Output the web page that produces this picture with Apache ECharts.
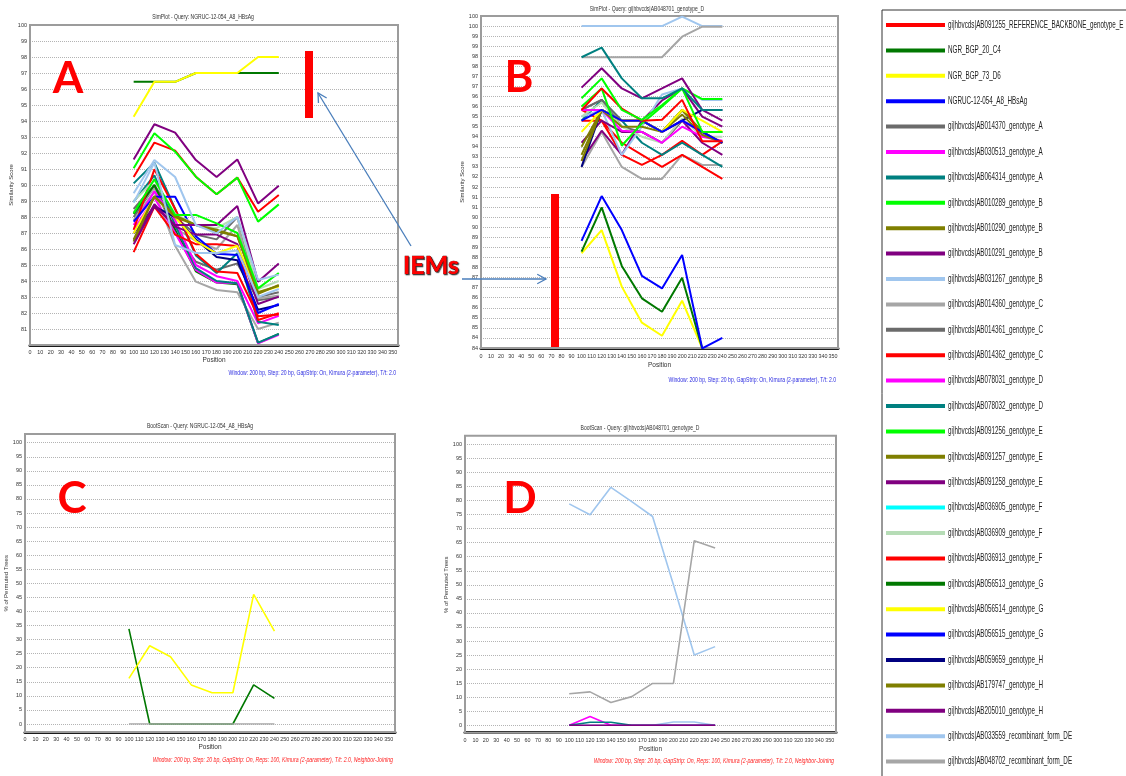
<!DOCTYPE html>
<html><head><meta charset="utf-8">
<script src="https://cdn.jsdelivr.net/npm/echarts@6/dist/echarts.min.js"></script>
<style>html,body{margin:0;padding:0;background:#fff}#c{width:1126px;height:776px}</style>
</head><body><div id="c"></div>
<script>
// ---------- DATA ----------
const positions = [100, 120, 140, 160, 180, 200, 220, 240];
const xTickStep = 10;

const seriesNames = [
  'gi|hbvcds|AB091255_REFERENCE_BACKBONE_genotype_E',
  'NGR_BGP_20_C4',
  'NGR_BGP_73_D6',
  'NGRUC-12-054_A8_HBsAg',
  'gi|hbvcds|AB014370_genotype_A',
  'gi|hbvcds|AB030513_genotype_A',
  'gi|hbvcds|AB064314_genotype_A',
  'gi|hbvcds|AB010289_genotype_B',
  'gi|hbvcds|AB010290_genotype_B',
  'gi|hbvcds|AB010291_genotype_B',
  'gi|hbvcds|AB031267_genotype_B',
  'gi|hbvcds|AB014360_genotype_C',
  'gi|hbvcds|AB014361_genotype_C',
  'gi|hbvcds|AB014362_genotype_C',
  'gi|hbvcds|AB078031_genotype_D',
  'gi|hbvcds|AB078032_genotype_D',
  'gi|hbvcds|AB091256_genotype_E',
  'gi|hbvcds|AB091257_genotype_E',
  'gi|hbvcds|AB091258_genotype_E',
  'gi|hbvcds|AB036905_genotype_F',
  'gi|hbvcds|AB036909_genotype_F',
  'gi|hbvcds|AB036913_genotype_F',
  'gi|hbvcds|AB056513_genotype_G',
  'gi|hbvcds|AB056514_genotype_G',
  'gi|hbvcds|AB056515_genotype_G',
  'gi|hbvcds|AB059659_genotype_H',
  'gi|hbvcds|AB179747_genotype_H',
  'gi|hbvcds|AB205010_genotype_H',
  'gi|hbvcds|AB033559_recombinant_form_DE',
  'gi|hbvcds|AB048702_recombinant_form_DE'
];

// Panel A: SimPlot, query NGRUC-12-054_A8_HBsAg (values at positions)
const simplotA = [
  ['gi|hbvcds|AB014360_genotype_C',          [87.8, 89.6, 86.2, 83.96, 83.44, 83.3, 81.0, 81.4]],
  ['gi|hbvcds|AB014370_genotype_A',          [88.0, 89.9, 87.0, 85.2, 84.7, 85.1, 82.8, 83.0]],
  ['gi|hbvcds|AB014361_genotype_C',          [88.5, 90.0, 88.0, 86.9, 86.6, 88.0, 83.0, 83.3]],
  ['gi|hbvcds|AB048702_recombinant_form_DE', [88.3, 89.8, 87.3, 86.5, 86.0, 87.5, 82.9, 83.1]],
  ['gi|hbvcds|AB056513_genotype_G',          [88.2, 90.0, 87.2, 84.6, 83.9, 83.8, 80.12, 80.7]],
  ['gi|hbvcds|AB078031_genotype_D',          [87.2, 89.2, 87.0, 84.7, 83.9, 83.86, 80.1, 80.63]],
  ['gi|hbvcds|AB064314_genotype_A',          [88.96, 90.6, 87.5, 84.8, 84.0, 83.86, 80.15, 80.69]],
  ['gi|hbvcds|AB030513_genotype_A',          [87.5, 89.6, 87.8, 85.0, 84.3, 84.0, 81.35, 81.83]],
  ['gi|hbvcds|AB078032_genotype_D',          [90.1, 91.4, 88.5, 85.6, 84.5, 85.73, 81.46, 81.25]],
  ['gi|hbvcds|AB036913_genotype_F',          [87.2, 90.98, 88.5, 85.7, 84.6, 84.5, 81.8, 81.9]],
  ['gi|hbvcds|AB014362_genotype_C',          [85.8, 88.65, 86.9, 86.3, 86.3, 86.19, 81.56, 81.98]],
  ['gi|hbvcds|AB059659_genotype_H',          [86.98, 88.65, 88.0, 86.6, 85.5, 85.3, 82.2, 82.5]],
  ['gi|hbvcds|AB056515_genotype_G',          [87.71, 89.27, 89.27, 86.8, 85.7, 85.63, 82.0, 82.56]],
  ['gi|hbvcds|AB205010_genotype_H',          [86.5, 88.8, 87.4, 86.9, 86.9, 86.3, 82.56, 83.02]],
  ['gi|hbvcds|AB056514_genotype_G',          [86.98, 89.27, 88.0, 86.5, 85.73, 86.2, 83.3, 83.65]],
  ['gi|hbvcds|AB036909_genotype_F',          [89.0, 90.3, 88.2, 87.5, 87.3, 88.0, 83.5, 84.0]],
  ['gi|hbvcds|AB179747_genotype_H',          [86.6, 89.3, 88.0, 87.5, 87.2, 86.8, 83.3, 83.7]],
  ['gi|hbvcds|AB091257_genotype_E',          [86.46, 89.27, 88.1, 87.5, 87.1, 86.8, 83.2, 83.75]],
  ['gi|hbvcds|AB091258_genotype_E',          [86.3, 88.65, 87.5, 87.5, 87.5, 88.69, 83.96, 85.1]],
  ['gi|hbvcds|AB091256_genotype_E',          [88.23, 90.36, 88.13, 88.13, 87.6, 87.0, 83.54, 84.5]],
  ['gi|hbvcds|AB033559_recombinant_form_DE', [88.9, 91.4, 86.25, 85.75, 85.75, 85.9, 83.0, 83.5]],
  ['gi|hbvcds|AB031267_genotype_B',          [89.48, 91.56, 90.5, 87.5, 86.98, 88.0, 84.06, 84.4]],
  ['gi|hbvcds|AB091255_REFERENCE_BACKBONE_genotype_E', [90.5, 92.65, 92.15, 90.52, 89.42, 90.46, 88.33, 89.38]],
  ['gi|hbvcds|AB010289_genotype_B',          [91.04, 93.23, 92.08, 90.52, 89.42, 90.46, 87.71, 88.79]],
  ['gi|hbvcds|AB010291_genotype_B',          [91.6, 93.8, 93.27, 91.56, 90.5, 91.6, 88.85, 89.96]],
  ['NGR_BGP_20_C4',                          [96.45, 96.45, 96.45, 97.0, 97.0, 97.0, 97.0, 97.0]],
  ['NGR_BGP_73_D6',                          [94.27, 96.45, 96.45, 97.0, 97.0, 97.0, 98.0, 98.0]]
];

// Panel B: SimPlot, query gi|hbvcds|AB048701_genotype_D
const simplotB = [
  ['gi|hbvcds|AB033559_recombinant_form_DE', [100.0, 100.0, 100.0, 100.0, 100.0, 100.47, 100.0, 100.0]],
  ['gi|hbvcds|AB048702_recombinant_form_DE', [98.45, 98.45, 98.45, 98.45, 98.45, 99.47, 99.97, 99.97]],
  ['gi|hbvcds|AB014360_genotype_C',          [93.0, 94.74, 93.0, 92.4, 92.4, 93.6, 93.1, 93.1]],
  ['gi|hbvcds|AB014362_genotype_C',          [95.83, 95.3, 94.2, 93.6, 93.0, 93.6, 93.0, 92.4]],
  ['gi|hbvcds|AB036913_genotype_F',          [95.3, 95.3, 93.6, 93.1, 93.6, 94.3, 93.6, 94.27]],
  ['gi|hbvcds|AB078032_genotype_D',          [95.3, 96.33, 95.3, 94.2, 93.6, 94.2, 93.6, 93.0]],
  ['gi|hbvcds|AB205010_genotype_H',          [93.3, 94.8, 93.6, 95.3, 96.3, 96.9, 95.5, 95.0]],
  ['gi|hbvcds|AB031267_genotype_B',          [95.5, 95.83, 93.6, 95.0, 96.6, 96.9, 96.33, 96.33]],
  ['gi|hbvcds|AB091258_genotype_E',          [94.2, 95.3, 94.74, 94.74, 94.2, 95.3, 94.2, 93.6]],
  ['gi|hbvcds|AB014361_genotype_C',          [95.83, 96.33, 95.0, 94.74, 94.2, 95.3, 94.74, 94.74]],
  ['gi|hbvcds|AB014370_genotype_A',          [95.83, 96.33, 95.3, 95.3, 94.74, 95.83, 94.74, 94.74]],
  ['gi|hbvcds|AB036909_genotype_F',          [95.5, 96.2, 95.0, 94.5, 94.2, 95.4, 94.5, 94.5]],
  ['gi|hbvcds|AB078031_genotype_D',          [95.83, 95.83, 94.8, 94.74, 94.2, 95.0, 94.5, 94.3]],
  ['gi|hbvcds|AB030513_genotype_A',          [95.83, 95.83, 95.3, 95.3, 94.74, 95.3, 94.74, 94.2]],
  ['gi|hbvcds|AB059659_genotype_H',          [93.0, 95.83, 95.3, 95.3, 94.74, 95.3, 95.83, 95.83]],
  ['gi|hbvcds|AB010290_genotype_B',          [94.0, 95.83, 95.0, 95.0, 94.74, 95.6, 94.6, 94.2]],
  ['gi|hbvcds|AB179747_genotype_H',          [93.3, 95.83, 95.3, 95.3, 94.74, 95.83, 94.74, 94.2]],
  ['gi|hbvcds|AB091257_genotype_E',          [93.6, 95.83, 95.3, 95.3, 94.74, 95.83, 94.74, 94.2]],
  ['gi|hbvcds|AB056514_genotype_G',          [94.74, 95.83, 95.3, 95.3, 94.74, 95.83, 95.3, 94.74]],
  ['gi|hbvcds|AB056515_genotype_G',          [95.3, 95.83, 95.3, 95.3, 94.74, 95.3, 94.74, 94.2]],
  ['gi|hbvcds|AB091256_genotype_E',          [96.0, 96.9, 94.05, 95.16, 96.0, 96.9, 94.74, 94.74]],
  ['gi|hbvcds|AB091255_REFERENCE_BACKBONE_genotype_E', [95.83, 96.9, 95.9, 95.3, 95.34, 96.33, 94.27, 94.27]],
  ['gi|hbvcds|AB010289_genotype_B',          [96.41, 97.4, 95.83, 95.34, 96.08, 96.9, 96.37, 96.37]],
  ['gi|hbvcds|AB010291_genotype_B',          [96.94, 97.9, 96.9, 96.41, 96.9, 97.4, 95.83, 95.3]],
  ['gi|hbvcds|AB064314_genotype_A',          [98.45, 98.93, 97.4, 96.41, 96.41, 96.9, 95.83, 95.83]],
  ['NGR_BGP_73_D6',                          [88.71, 89.86, 87.05, 85.26, 84.61, 86.35, 83.98]],
  ['NGR_BGP_20_C4',                          [88.79, 90.99, 88.08, 86.47, 85.8, 87.49, 83.98]],
  ['NGRUC-12-054_A8_HBsAg',                  [89.32, 91.55, 89.86, 87.58, 86.96, 88.62, 83.98, 84.5]]
];

// Panel C: BootScan, query NGRUC-12-054_A8_HBsAg
const bootscanC = [
  ['NGR_BGP_20_C4',                          [33.8, 0, 0, 0, 0, 0, 13.9, 9.1]],
  ['NGR_BGP_73_D6',                          [16.2, 27.8, 23.9, 13.9, 11.1, 11.1, 46.1, 33.0]],
  ['gi|hbvcds|AB048702_recombinant_form_DE', [0, 0, 0, 0, 0, 0, 0, 0]]
];

// Panel D: BootScan, query gi|hbvcds|AB048701_genotype_D
const bootscanD = [
  ['gi|hbvcds|AB033559_recombinant_form_DE', [78.8, 74.9, 84.7, 79.6, 74.3, 50.0, 25.0, 28.0]],
  ['gi|hbvcds|AB048702_recombinant_form_DE', [11.2, 11.9, 8.1, 10.2, 14.9, 14.9, 65.7, 63.1]],
  ['gi|hbvcds|AB031267_genotype_B',          [0, 0, 0, 0, 0, 1.2, 1.2, 0]],
  ['gi|hbvcds|AB078031_genotype_D',          [0, 3.1, 0, 0, 0, 0, 0, 0]],
  ['gi|hbvcds|AB064314_genotype_A',          [0, 1.1, 1.1, 0, 0, 0, 0, 0]],
  ['gi|hbvcds|AB205010_genotype_H',          [0, 0, 0, 0, 0, 0, 0, 0]]
];

// ---------- STYLES ----------
const lineColors = {
  'gi|hbvcds|AB091255_REFERENCE_BACKBONE_genotype_E': '#ff0000',
  'NGR_BGP_20_C4': '#007800',
  'NGR_BGP_73_D6': '#ffff00',
  'NGRUC-12-054_A8_HBsAg': '#0000ff',
  'gi|hbvcds|AB014370_genotype_A': '#6b6b6b',
  'gi|hbvcds|AB030513_genotype_A': '#ff00ff',
  'gi|hbvcds|AB064314_genotype_A': '#008080',
  'gi|hbvcds|AB010289_genotype_B': '#00ff00',
  'gi|hbvcds|AB010290_genotype_B': '#7f7f00',
  'gi|hbvcds|AB010291_genotype_B': '#800080',
  'gi|hbvcds|AB031267_genotype_B': '#a0c6ee',
  'gi|hbvcds|AB014360_genotype_C': '#a6a6a6',
  'gi|hbvcds|AB014361_genotype_C': '#6b6b6b',
  'gi|hbvcds|AB014362_genotype_C': '#ff0000',
  'gi|hbvcds|AB078031_genotype_D': '#ff00ff',
  'gi|hbvcds|AB078032_genotype_D': '#008080',
  'gi|hbvcds|AB091256_genotype_E': '#00ff00',
  'gi|hbvcds|AB091257_genotype_E': '#7f7f00',
  'gi|hbvcds|AB091258_genotype_E': '#800080',
  'gi|hbvcds|AB036905_genotype_F': '#00ffff',
  'gi|hbvcds|AB036909_genotype_F': '#b6dcb6',
  'gi|hbvcds|AB036913_genotype_F': '#ff0000',
  'gi|hbvcds|AB056513_genotype_G': '#007800',
  'gi|hbvcds|AB056514_genotype_G': '#ffff00',
  'gi|hbvcds|AB056515_genotype_G': '#0000ff',
  'gi|hbvcds|AB059659_genotype_H': '#000080',
  'gi|hbvcds|AB179747_genotype_H': '#7f7f00',
  'gi|hbvcds|AB205010_genotype_H': '#800080',
  'gi|hbvcds|AB033559_recombinant_form_DE': '#a0c6ee',
  'gi|hbvcds|AB048702_recombinant_form_DE': '#a6a6a6'
};

const FONT = "'Liberation Sans', Arial, sans-serif";
const panels = [
  { grid: {left: 30, top: 25, width: 368, height: 320}, xMax: 355, yMin: 80, yMax: 100, yInt: 1,
    rows: simplotA, lw: 2, yName: 'Similarity Score', offset: 0, labelMargin: 5, nameGap: 12, yNameGap: 12,
    yFmt: v => (v === 80 ? '' : String(v)) },
  { grid: {left: 481, top: 16, width: 357, height: 332}, xMax: 355, yMin: 84, yMax: 100.5, yInt: 0.5,
    rows: simplotB, lw: 2, yName: 'Similarity Score', offset: 0, labelMargin: 6, nameGap: 14, yNameGap: 12,
    yFmt: v => String(Math.floor(v)) },
  { grid: {left: 25, top: 442.7, width: 370, height: 281.3}, xMax: 356, yMin: 0, yMax: 100, yInt: 5,
    rows: bootscanC, lw: 1.6, yName: '% of Permuted Trees', offset: 8, labelMargin: 5, nameGap: 12, yNameGap: 12,
    yFmt: v => String(v) },
  { grid: {left: 465, top: 444.3, width: 371, height: 281}, xMax: 356, yMin: 0, yMax: 100, yInt: 5,
    rows: bootscanD, lw: 1.6, yName: '% of Permuted Trees', offset: 7.4, labelMargin: 5, nameGap: 13, yNameGap: 13,
    yFmt: v => String(v) }
];

const grids = [], xAxes = [], yAxes = [], series = [];
panels.forEach((p, i) => {
  grids.push(Object.assign({show: false, containLabel: false}, p.grid));
  xAxes.push({
    type: 'value', gridIndex: i, min: 0, max: p.xMax, interval: xTickStep, offset: p.offset,
    name: 'Position', nameLocation: 'middle', nameGap: p.nameGap,
    nameTextStyle: {fontSize: 6.5, color: '#333', fontFamily: FONT},
    axisLine: {show: true, onZero: false, lineStyle: {color: '#1a1a1a', width: 3}},
    axisTick: {show: false}, splitLine: {show: false},
    axisLabel: {fontSize: 5.4, color: '#333', fontFamily: FONT, margin: p.labelMargin,
      formatter: v => (v % xTickStep === 0 ? String(v) : '')}
  });
  yAxes.push({
    type: 'value', gridIndex: i, min: p.yMin, max: p.yMax, interval: p.yInt,
    name: p.yName, nameLocation: 'middle', nameGap: p.yNameGap,
    nameTextStyle: {fontSize: 6, color: '#333', fontFamily: FONT},
    axisLine: {show: false}, axisTick: {show: false},
    splitLine: {show: true, lineStyle: {color: '#b4b4b4', type: 'dotted', width: 1}},
    axisLabel: {fontSize: 5.5, color: '#333', fontFamily: FONT, margin: 3, formatter: p.yFmt}
  });
  p.rows.forEach(([name, vals]) => {
    const c = lineColors[name];
    series.push({
      type: 'line', name, xAxisIndex: i, yAxisIndex: i,
      data: vals.map((v, k) => [positions[k], v]),
      showSymbol: false, symbol: 'none', silent: true, clip: true,
      lineStyle: {color: c, width: p.lw}, itemStyle: {color: c},
      emphasis: {disabled: true}
    });
  });
});

// ---------- ANNOTATIONS ----------
function txt(x, y, text, o, sx) {
  return {type: 'text', x, y, z: 50, silent: true, scaleX: sx || 1,
    style: Object.assign({text, fill: '#333', fontSize: 7, fontFamily: FONT,
      align: 'center', textAlign: 'center', verticalAlign: 'middle', textVerticalAlign: 'middle'}, o || {})};
}
function arrow(x1, y1, x2, y2) {
  const ang = Math.atan2(y1 - y2, x1 - x2), L = 10, a = 0.5;
  const st = {stroke: '#4a7ebb', lineWidth: 1.3, fill: null};
  return [
    {type: 'polyline', z: 60, silent: true, shape: {points: [[x1, y1], [x2, y2]]}, style: st},
    {type: 'polyline', z: 60, silent: true, shape: {points: [
      [x2 + L * Math.cos(ang + a), y2 + L * Math.sin(ang + a)], [x2, y2],
      [x2 + L * Math.cos(ang - a), y2 + L * Math.sin(ang - a)]]}, style: st}
  ];
}
const frameStyle = {fill: null, stroke: '#9c9c9c', lineWidth: 2};
const letterStyle = {fill: '#ff0000', fontSize: 44, fontWeight: 'bold', fontFamily: "Lato, 'Open Sans', sans-serif"};
const sub1 = 'Window: 200 bp, Step: 20 bp, GapStrip: On, Kimura (2-parameter), T/t: 2.0';
const sub2 = 'Window: 200 bp, Step: 20 bp, GapStrip: On, Reps: 100, Kimura (2-parameter), T/t: 2.0, Neighbor-Joining';
const subBlue = {fill: '#2a2ae0', fontSize: 6.5, align: 'right', textAlign: 'right'};
const subRed = {fill: '#ff2020', fontSize: 6.5, fontStyle: 'italic', align: 'right', textAlign: 'right'};

// Legend (names and colours from the series lists above)
const legendEls = [];
seriesNames.forEach((name, i) => {
  const y = 25 + i * 25.4;
  legendEls.push({type: 'rect', z: 40, silent: true, shape: {x: 886, y: y - 2, width: 59, height: 4},
    style: {fill: lineColors[name]}});
  legendEls.push({type: 'text', x: 948, y: y, z: 40, silent: true, scaleX: 0.6,
    style: {text: name, fill: '#222', fontSize: 10.5, fontFamily: FONT,
      align: 'left', textAlign: 'left', verticalAlign: 'middle', textVerticalAlign: 'middle'}});
});

const graphics = [
  {type: 'rect', z: 1, silent: true, shape: {x: 30, y: 25, width: 368, height: 320}, style: frameStyle},
  {type: 'rect', z: 1, silent: true, shape: {x: 481, y: 16, width: 357, height: 332}, style: frameStyle},
  {type: 'rect', z: 1, silent: true, shape: {x: 25, y: 434, width: 370, height: 298}, style: frameStyle},
  {type: 'rect', z: 1, silent: true, shape: {x: 465, y: 435.7, width: 371, height: 297}, style: frameStyle},
  {type: 'rect', z: 1, silent: true, shape: {x: 882, y: 10, width: 300, height: 800}, style: {fill: null, stroke: '#333', lineWidth: 1}},
  txt(203, 17, 'SimPlot - Query: NGRUC-12-054_A8_HBsAg', null, 0.72),
  txt(647, 9, 'SimPlot - Query: gi|hbvcds|AB048701_genotype_D', null, 0.72),
  txt(200, 426, 'BootScan - Query: NGRUC-12-054_A8_HBsAg', null, 0.72),
  txt(640, 428, 'BootScan - Query: gi|hbvcds|AB048701_genotype_D', null, 0.72),
  txt(396, 373, sub1, subBlue, 0.78),
  txt(836, 380, sub1, subBlue, 0.78),
  txt(393, 760, sub2, subRed, 0.8),
  txt(834, 761, sub2, subRed, 0.8),
  txt(68, 79, 'A', letterStyle),
  txt(519, 78, 'B', letterStyle),
  txt(72, 499, 'C', letterStyle),
  txt(520, 499, 'D', letterStyle),
  {type: 'rect', z: 60, silent: true, shape: {x: 305, y: 51, width: 8, height: 67}, style: {fill: '#ff0000'}},
  {type: 'rect', z: 60, silent: true, shape: {x: 551, y: 194, width: 8, height: 153}, style: {fill: '#ff0000'}},
  txt(431, 266, 'IEMs', {fill: '#ff0000', fontSize: 25, fontWeight: 'bold', fontFamily: "Lato, 'Open Sans', sans-serif",
    stroke: '#5a0000', lineWidth: 0.6, textShadowColor: 'rgba(0,0,0,0.7)', textShadowBlur: 1, textShadowOffsetX: 1, textShadowOffsetY: 1})
].concat(arrow(411, 246, 318, 93), arrow(462, 279, 546, 279), legendEls);

const chart = echarts.init(document.getElementById('c'), null, {renderer: 'canvas'});
chart.setOption({
  animation: false,
  backgroundColor: '#ffffff',
  grid: grids, xAxis: xAxes, yAxis: yAxes, series,
  graphic: graphics
});
</script></body></html>
